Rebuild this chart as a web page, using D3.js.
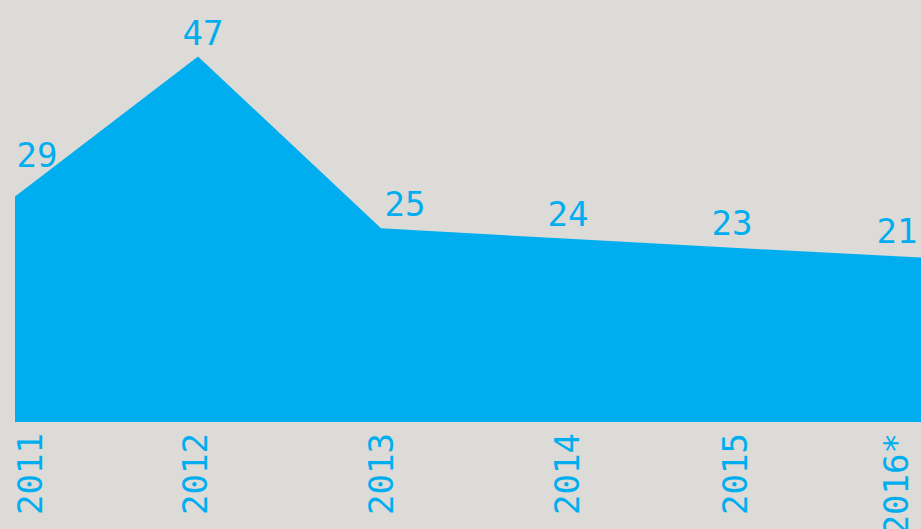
<!DOCTYPE html>
<html>
<head>
<meta charset="utf-8">
<script src="https://cdn.jsdelivr.net/npm/d3@7"></script>
<style>
  html, body { margin: 0; padding: 0; background: #dcdbd7; }
  svg { display: block; }
  text { font-family: "DejaVu Sans Mono", monospace; fill: #00aeef; }
</style>
</head>
<body>
<div id="chart"></div>
<script>
// data
const years = ["2011", "2012", "2013", "2014", "2015", "2016*"];
const values = [29, 47, 24.9, 23.6, 22.3, 21.1];
const valueLabels = ["29", "47", "25", "24", "23", "21"];

const width = 921, height = 529;
const blue = "#00aeef";

// small horizontal nudges for the labels (layout, not data)
const labelDx = [0, 5, 24, 4, -15, 0];
const yearDx = [0, -3, 0, 3, -12, 0];

const svg = d3.select("#chart")
    .append("svg")
    .attr("width", width)
    .attr("height", height);

svg.append("rect")
    .attr("width", width)
    .attr("height", height)
    .attr("fill", "#dcdbd7");

const x = d3.scalePoint()
    .domain(years)
    .range([15, 930]);

const y = d3.scaleLinear()
    .domain([0, 47])
    .range([422, 56.5]);

const data = years.map((yr, i) => ({year: yr, value: values[i], label: valueLabels[i], i: i}));

// clip at the window edge
svg.append("defs").append("clipPath")
    .attr("id", "clip")
    .append("rect")
    .attr("x", 0).attr("y", 0)
    .attr("width", width).attr("height", height);

const area = d3.area()
    .x(d => x(d.year))
    .y0(y(0))
    .y1(d => y(d.value));

svg.append("path")
    .datum(data)
    .attr("clip-path", "url(#clip)")
    .attr("fill", blue)
    .attr("d", area);

// y of the line at any pixel x
function lineY(px) {
    for (let i = 0; i < data.length - 1; i++) {
        const x0 = x(data[i].year), x1 = x(data[i + 1].year);
        if (px >= x0 && px <= x1) {
            const t = (px - x0) / (x1 - x0);
            return y(data[i].value) + t * (y(data[i + 1].value) - y(data[i].value));
        }
    }
    return px < x(data[0].year) ? y(data[0].value) : y(data[data.length - 1].value);
}

const clamp = (v, lo, hi) => Math.max(lo, Math.min(hi, v));

// value labels
svg.selectAll(".val")
    .data(data)
    .enter()
    .append("text")
    .attr("class", "val")
    .attr("text-anchor", "middle")
    .attr("font-size", 34)
    .each(function(d) {
        const cx = clamp(x(d.year) + labelDx[d.i], 37, 897);
        d3.select(this)
            .attr("x", cx)
            .attr("y", Math.min(lineY(cx) - 13, lineY(x(d.year)) - 12));
    })
    .text(d => d.label);

// year labels, rotated, hanging from just under the area
svg.selectAll(".yr")
    .data(data)
    .enter()
    .append("text")
    .attr("class", "yr")
    .attr("font-size", 34)
    .attr("text-anchor", "end")
    .attr("dy", "0.36em")
    .attr("transform", d => {
        const cx = clamp(x(d.year) + yearDx[d.i], 30, 896);
        return `translate(${cx},433) rotate(-90)`;
    })
    .text(d => d.year);
</script>
</body>
</html>
